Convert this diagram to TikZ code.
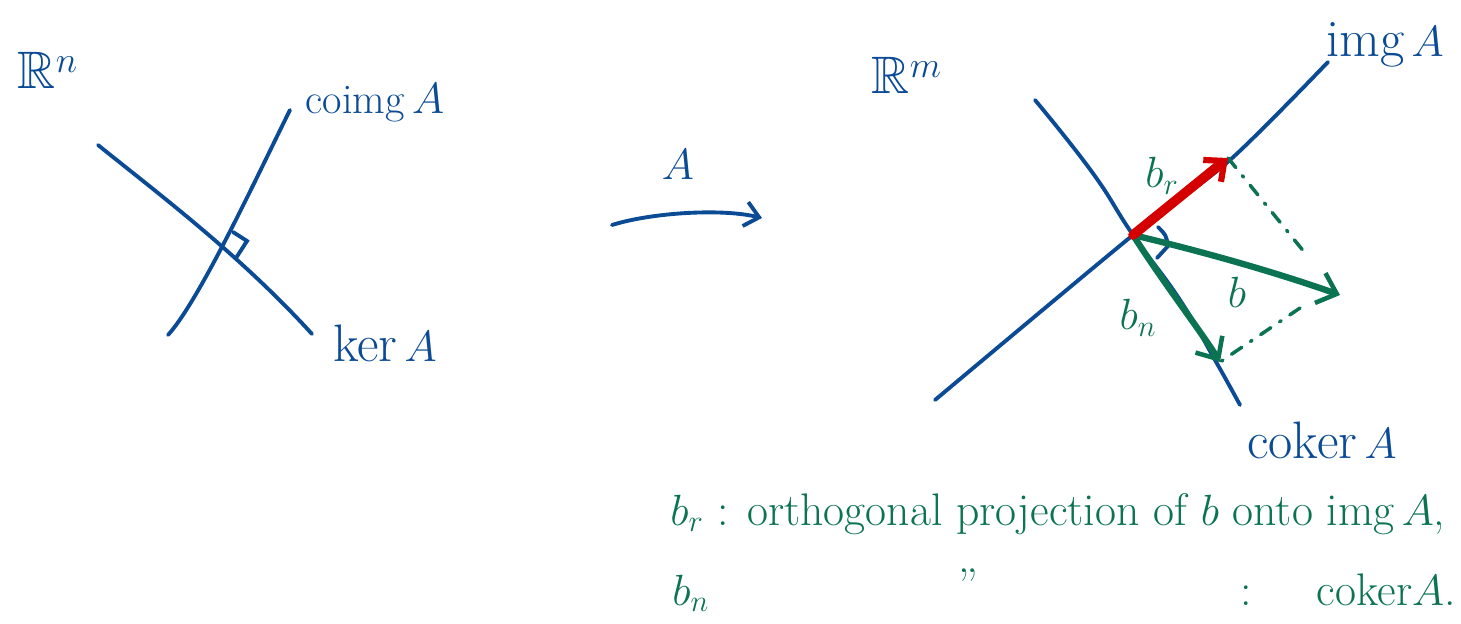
\documentclass[tikz,border=0pt]{standalone}
\usepackage{amssymb}
\usetikzlibrary{arrows.meta}
\definecolor{penblue}{HTML}{0B4A94}
\definecolor{pengreen}{HTML}{0B7352}
\definecolor{penred}{HTML}{D40000}
\tikzset{
    axis/.style={draw=penblue, line width=2.2pt, line cap=round},
    maparrow/.style={draw=penblue, line width=2.2pt, line cap=round,
        -{Straight Barb[length=8pt,width=14pt,line width=2.2pt]}},
    vecgreen/.style={draw=pengreen, line width=3.6pt, line cap=round,
        -{Straight Barb[length=10pt,width=18pt,line width=2.6pt]}},
    vecred/.style={draw=penred, line width=5.5pt, line cap=round,
        -{Straight Barb[length=9pt,width=16pt,line width=3.5pt]}},
    proj/.style={draw=pengreen, line width=2pt, line cap=round,
        dash pattern=on 7pt off 6pt on 1pt off 6pt},
    bluelabel/.style={text=penblue, font=\fontsize{30}{34}\selectfont, inner sep=0pt},
    greenlabel/.style={text=pengreen, font=\fontsize{26}{30}\selectfont, inner sep=0pt},
    note/.style={text=pengreen, font=\fontsize{26}{30}\selectfont, inner sep=0pt, anchor=base west},
}
\begin{document}
\begin{tikzpicture}[x=0.02cm, y=-0.02cm]
    \useasboundingbox (0,0) rectangle (1461,623);

    % Domain R^n
    \node[bluelabel] (Rn) at (48,70) {$\mathbb{R}^n$};
    \coordinate (ker0) at (98,145);
    \coordinate (ker1) at (312,334);
    \coordinate (coim0) at (290,110);
    \coordinate (coim1) at (168,335);
    \draw[axis] (ker0) .. controls (160,195) and (240,255) .. (ker1);
    \draw[axis] (coim0) .. controls (260,170) and (200,300) .. (coim1);
    \coordinate (rt0) at (233,232);
    \coordinate (rt1) at (247,241);
    \coordinate (rt2) at (236,258);
    \draw[axis] (rt0) -- (rt1) -- (rt2);
    \node[bluelabel, font=\fontsize{24}{28}\selectfont] (coimg) at (375,103) {coimg$\,A$};
    \node[bluelabel] (ker) at (385,343) {ker$\,A$};

    % The map A
    \node[bluelabel, font=\fontsize{34}{38}\selectfont] (mapA) at (678,165) {$A$};
    \coordinate (mapL) at (612,225);
    \coordinate (mapR) at (762,218);
    \draw[maparrow] (mapL) .. controls (650,213) and (720,208) .. (mapR);

    % Codomain R^m
    \node[bluelabel] (Rm) at (907,75) {$\mathbb{R}^m$};
    \coordinate (O) at (1133,235);
    \coordinate (im0) at (935,400);
    \coordinate (im1) at (1230,160);
    \coordinate (im2) at (1328,62);
    \coordinate (cok0) at (1035,100);
    \coordinate (cok1) at (1092,172);
    \coordinate (cok2) at (1180,300);
    \coordinate (cok3) at (1215,360);
    \coordinate (cok4) at (1240,405);
    \draw[axis] plot[smooth] coordinates {(im0) (O) (im1) (im2)};
    \draw[axis] plot[smooth, tension=0.8] coordinates {(cok0) (cok1) (O) (cok2) (cok3) (cok4)};
    \coordinate (ra0) at (1158,227);
    \coordinate (ra1) at (1168,246);
    \coordinate (ra2) at (1157,258);
    \draw[axis] (ra0) .. controls (1166,235) .. (ra1) -- (ra2);
    \node[bluelabel] (img) at (1385,45) {img$\,A$};
    \node[bluelabel] (coker) at (1322,440) {coker$\,A$};

    % Vectors
    \coordinate (brtip) at (1228,158);
    \coordinate (btip) at (1340,295);
    \coordinate (bntip) at (1220,362);
    \draw[proj] (brtip) -- (1305,253);
    \draw[proj] (1300,308) -- (bntip);
    \draw[vecgreen] (O) .. controls (1200,251) and (1272,271) .. (btip);
    \draw[vecgreen] (O) .. controls (1165,285) and (1200,330) .. (bntip);
    \draw[vecred] (O) -- (brtip);
    \node[greenlabel] (brlab) at (1162,176) {$b_r$};
    \node[greenlabel] (blab) at (1237,292) {$b$};
    \node[greenlabel] (bnlab) at (1138,318) {$b_n$};

    % Notes
    \node[note] (note1) at (670,525) {$b_r$ : orthogonal projection of $b$ onto img$\,A$,};
    \node[note] (note2) at (672,605) {$b_n$};
    \node[note] (ditto) at (958,600) {''};
    \node[note] (colon) at (1240,605) {:};
    \node[note, anchor=base east] (note3) at (1456,605) {coker$A$.};
\end{tikzpicture}
\end{document}
